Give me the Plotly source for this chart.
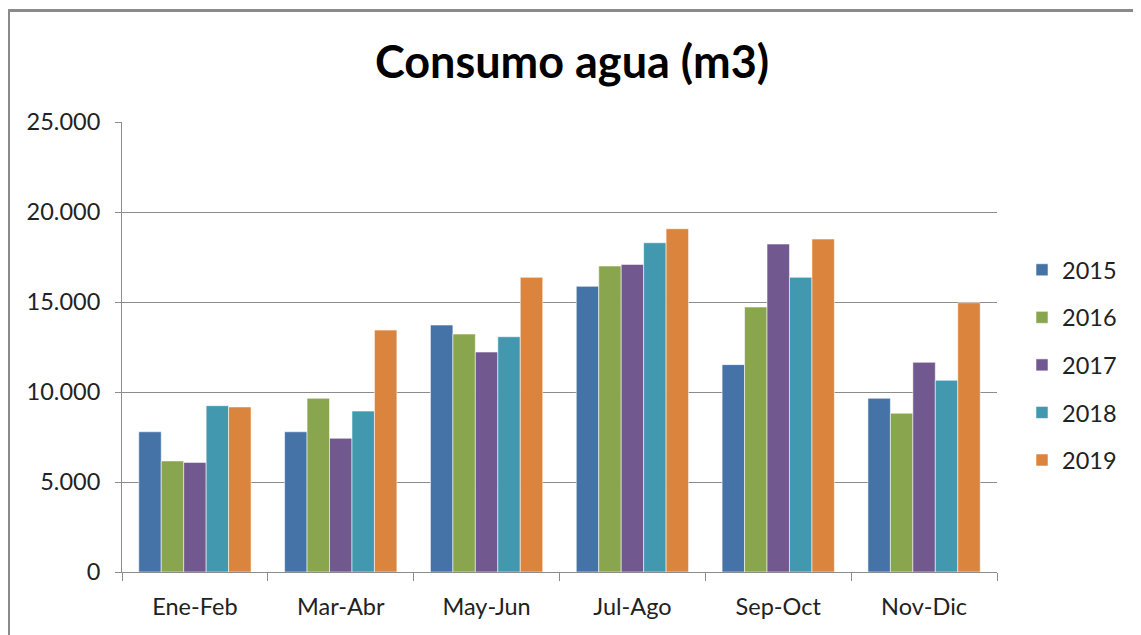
import plotly.graph_objects as go

categories = ["Ene-Feb", "Mar-Abr", "May-Jun", "Jul-Ago", "Sep-Oct", "Nov-Dic"]
years = ["2015", "2016", "2017", "2018", "2019"]
v2015 = [7790, 7790, 13720, 15870, 11520, 9650]
v2016 = [6170, 9650, 13220, 17000, 14720, 8820]
v2017 = [6090, 7430, 12220, 17090, 18220, 11650]
v2018 = [9240, 8940, 13070, 18290, 16370, 10650]
v2019 = [9170, 13440, 16370, 19070, 18500, 14960]
series = [v2015, v2016, v2017, v2018, v2019]
colors = ["#4572A7", "#89A54E", "#71588F", "#4198AF", "#DB843D"]

FONT = "Lato"
TS = 23.5

fig = go.Figure()
for name, vals, col in zip(years, series, colors):
    fig.add_trace(go.Bar(
        x=categories, y=vals, name=name, legendgroup=name,
        marker=dict(color=col, line=dict(color="rgba(255,255,255,0.55)", width=1)),
    ))

OFF = 8  # browser body margin
W, H = 1141, 635
# target page coords of plot area: x 122..997, y 122..572
L, T = 122 - OFF, 122 - OFF
R = W - (997 - OFF)
B = H - (572 - OFF)
pw, ph = W - L - R, H - T - B

def px(x):  # page x -> paper
    return (x - OFF - L) / pw

def py(y):  # page y -> paper
    return (572 - y) / ph

fig.update_layout(
    width=W, height=H, autosize=False,
    margin=dict(l=L, r=R, t=T, b=B, pad=0),
    paper_bgcolor="white", plot_bgcolor="white",
    separators=",.",
    barmode="group", bargap=0.23, bargroupgap=0,
    title=dict(text="<b>Consumo agua (m3)</b>", x=px(572), xref="paper", xanchor="center",
               y=1 - (62 - OFF) / H, yanchor="middle",
               font=dict(family=FONT, size=45, color="black")),
    font=dict(family=FONT, color="#222"),
    legend=dict(x=px(1022), xanchor="left", y=py(365), yanchor="middle",
                font=dict(family=FONT, size=TS, color="#222"),
                tracegroupgap=14, itemwidth=30, bgcolor="rgba(0,0,0,0)"),
    showlegend=True,
    shapes=[dict(type="rect", xref="paper", yref="paper",
                 x0=px(8.5), x1=px(1180), y0=py(680), y1=py(10.5),
                 line=dict(color="#8a8a8a", width=3), fillcolor="rgba(0,0,0,0)", layer="below")],
)
fig.update_yaxes(range=[0, 25000], dtick=5000, tickformat=",d",
                 showgrid=True, gridcolor="#8c8c8c", gridwidth=1,
                 showline=True, linecolor="#8c8c8c", linewidth=1,
                 ticks="outside", ticklen=6, tickcolor="#8c8c8c",
                 ticklabelstandoff=10,
                 tickfont=dict(family=FONT, size=TS, color="#222"),
                 zeroline=False)
fig.update_xaxes(showline=True, linecolor="#8c8c8c", linewidth=1,
                 ticks="outside", ticklen=8, tickcolor="#8c8c8c", tickson="boundaries",
                 ticklabelstandoff=14,
                 tickfont=dict(family=FONT, size=TS, color="#222"), showgrid=False)

fig.write_html("out.html")
